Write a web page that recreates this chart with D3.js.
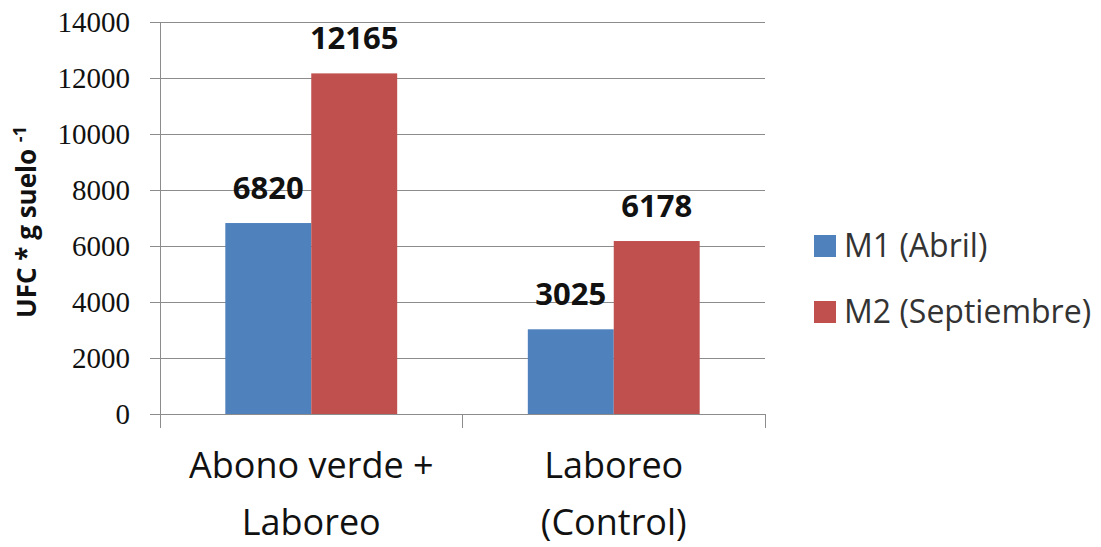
<!DOCTYPE html>
<meta charset="utf-8">
<style>
  body { margin: 0; background: #fff; }
  .grid line { stroke: #8c8c8c; stroke-width: 1px; shape-rendering: crispEdges; }
  .axis path, .axis line { stroke: #8c8c8c; shape-rendering: crispEdges; }
  .y.axis text { font-family: "Liberation Serif", serif; font-size: 29px; fill: #111; }
  .x.axis text { font-family: "Open Sans", sans-serif; font-size: 36px; fill: #111; }
  .val { font-family: "Open Sans", sans-serif; font-weight: bold; font-size: 31px; fill: #111; }
  .legend text { font-family: "Open Sans", sans-serif; font-size: 32px; fill: #333; }
  .ytitle { font-family: "Open Sans", sans-serif; font-weight: bold; font-size: 26px; fill: #111; }
</style>
<body>
<div id="chart"></div>
<script src="https://d3js.org/d3.v7.min.js"></script>
<script>
// data
const categories = [["Abono verde +", "Laboreo"], ["Laboreo", "(Control)"]];
const seriesNames = ["M1 (Abril)", "M2 (Septiembre)"];
const m1 = [6820, 3025];
const m2 = [12165, 6178];
const yTicks = [0, 2000, 4000, 6000, 8000, 10000, 12000, 14000];
const colors = ["#4f81bd", "#c0504d"];

const W = 1101, H = 547;
const margin = {top: 22, right: 336, bottom: 133, left: 160};
const width = W - margin.left - margin.right,
      height = H - margin.top - margin.bottom;

const svg = d3.select("#chart").append("svg")
  .attr("width", W).attr("height", H)
  .append("g")
  .attr("transform", "translate(" + margin.left + "," + margin.top + ")");

const x0 = d3.scaleBand().domain(d3.range(categories.length)).range([0, width]);
const x1 = d3.scaleBand().domain(d3.range(seriesNames.length))
  .range([0, x0.bandwidth()]).paddingOuter(0.76).paddingInner(0);
const y = d3.scaleLinear().domain([0, 14000]).range([height, 0]);

// gridlines
svg.append("g").attr("class", "grid")
  .selectAll("line").data(yTicks).enter().append("line")
  .attr("x1", 0).attr("x2", width)
  .attr("y1", d => Math.round(y(d)) + 0.5).attr("y2", d => Math.round(y(d)) + 0.5);

// y axis
const yAxis = svg.append("g").attr("class", "y axis")
  .call(d3.axisLeft(y).tickValues(yTicks).tickFormat(d3.format("d"))
    .tickSize(10).tickPadding(20).tickSizeOuter(0));
yAxis.select(".domain").attr("d", "M0.5,0V" + (height + 14));

// x axis ticks (between categories)
const xg = svg.append("g").attr("class", "x axis")
  .attr("transform", "translate(0," + height + ")");
xg.append("line").attr("x1", 0).attr("x2", width).attr("y1", 0.5).attr("y2", 0.5);
xg.selectAll("line.tk").data(d3.range(categories.length + 1)).enter().append("line")
  .attr("class", "tk")
  .attr("x1", d => d === categories.length ? width : x0(d))
  .attr("x2", d => d === categories.length ? width : x0(d))
  .attr("y1", 0).attr("y2", 14);
xg.selectAll("text").data(categories).enter().append("text")
  .attr("text-anchor", "middle")
  .attr("x", (d, i) => x0(i) + x0.bandwidth() / 2)
  .selectAll("tspan").data(d => d).enter().append("tspan")
  .attr("x", function() { return d3.select(this.parentNode).attr("x"); })
  .attr("y", (d, i) => 64 + i * 57)
  .text(d => d);

// bars
const series = [m1, m2];
series.forEach((vals, s) => {
  svg.selectAll(".bar" + s).data(vals).enter().append("rect")
    .attr("x", (d, i) => x0(i) + x1(s))
    .attr("width", x1.bandwidth())
    .attr("y", d => y(d))
    .attr("height", d => height - y(d))
    .attr("fill", colors[s]);
  svg.selectAll(".val" + s).data(vals).enter().append("text")
    .attr("class", "val")
    .attr("text-anchor", "middle")
    .attr("x", (d, i) => x0(i) + x1(s) + x1.bandwidth() / 2)
    .attr("y", d => y(d) - 24)
    .text(d => d);
});

// y title
svg.append("text").attr("class", "ytitle")
  .attr("transform", "translate(" + (-124) + "," + 200 + ") rotate(-90)")
  .attr("text-anchor", "middle")
  .call(t => {
    t.append("tspan").text("UFC * g suelo ");
    t.append("tspan").attr("dy", -10).attr("font-size", 18).text("-1");
  });

// legend
const lg = svg.append("g").attr("class", "legend")
  .attr("transform", "translate(" + (width + 49) + ",0)");
seriesNames.forEach((n, i) => {
  lg.append("rect").attr("x", 0).attr("y", 213 + i * 66).attr("width", 22).attr("height", 22)
    .attr("fill", colors[i]);
  lg.append("text").attr("x", 30).attr("y", 235 + i * 66).text(n);
});
</script>
</body>
